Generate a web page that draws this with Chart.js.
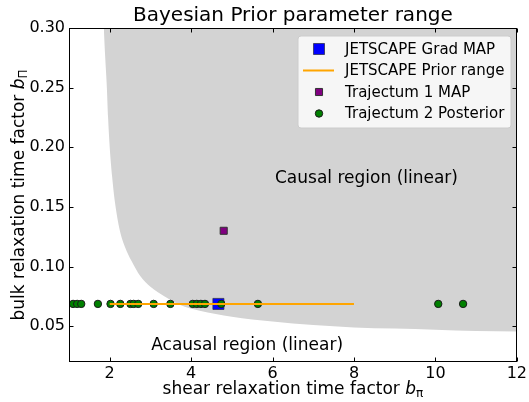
<!DOCTYPE html>
<html>
<head>
<meta charset="utf-8">
<script src="https://cdn.jsdelivr.net/npm/chart.js@4.4.1/dist/chart.umd.min.js"></script>
<style>
html,body{margin:0;padding:0;background:#fff;}
#c{display:block;}
</style>
</head>
<body>
<canvas id="c" width="529" height="402" style="width:529px;height:402px"></canvas>
<script>
// ---- data ----
const titleText = 'Bayesian Prior parameter range';
const xLabelText = 'shear relaxation time factor ';
const yLabelText = 'bulk relaxation time factor ';
const xTicks = [2, 4, 6, 8, 10, 12];
const yTicks = [0.05, 0.10, 0.15, 0.20, 0.25, 0.30];

// causal boundary (lower edge of shaded region)
const causalX = [1.855, 1.89, 1.93, 1.96, 2.0, 2.06, 2.12, 2.25, 2.38, 2.53, 2.75, 3.0, 3.35, 3.72, 4.21, 5.0, 6.0, 7.0, 8.0, 9.0, 10.0, 11.0, 12.0];
const causalY = [0.30, 0.275, 0.25, 0.225, 0.20, 0.175, 0.156, 0.13, 0.116, 0.105, 0.092, 0.083, 0.075, 0.068, 0.063, 0.058, 0.054, 0.051, 0.049, 0.048, 0.047, 0.046, 0.0455];

const jetscapeMapX = [4.67];
const jetscapeMapY = [0.0687];

const priorRangeX = [2.0, 8.0];
const priorRangeY = [0.0687, 0.0687];

const traj1X = [4.80];
const traj1Y = [0.130];

const traj2X = [1.10, 1.20, 1.30, 1.71, 2.02, 2.26, 2.51, 2.59, 2.70, 3.08, 3.49, 4.04, 4.14, 4.24, 4.34, 4.74, 5.64, 10.07, 10.68];
const traj2Y = [0.0687, 0.0687, 0.0687, 0.0687, 0.0687, 0.0687, 0.0687, 0.0687, 0.0687, 0.0687, 0.0687, 0.0687, 0.0687, 0.0687, 0.0687, 0.0687, 0.0687, 0.0687, 0.0687];

const annotations = [
  {text: 'Causal region (linear)', x: 6.06, y: 0.170},
  {text: 'Acausal region (linear)', x: 3.02, y: 0.030}
];

const pts = (xs, ys) => xs.map((x, i) => ({x: x, y: ys[i]}));
const FONT = "'DejaVu Sans', 'Liberation Sans', sans-serif";

const overlay = {
  id: 'overlay',
  afterDraw(chart) {
    const ctx = chart.ctx;
    const a = chart.chartArea;
    const xs = chart.scales.x, ys = chart.scales.y;
    ctx.save();
    // title
    ctx.fillStyle = '#000';
    ctx.font = '20px ' + FONT;
    ctx.textAlign = 'center';
    ctx.textBaseline = 'alphabetic';
    ctx.fillText(titleText, (a.left + a.right) / 2, 21);
    // annotations
    ctx.font = '17px ' + FONT;
    ctx.textAlign = 'left';
    annotations.forEach(t => {
      ctx.fillText(t.text, xs.getPixelForValue(t.x), ys.getPixelForValue(t.y));
    });
    // frame
    ctx.strokeStyle = '#000';
    ctx.lineWidth = 1;
    const L = Math.round(a.left) + 0.5, R = Math.round(a.right) - 0.5;
    const T = Math.round(a.top) + 0.5, B = Math.round(a.bottom) - 0.5;
    ctx.strokeRect(L, T, R - L, B - T);
    // inward ticks
    const tl = 4;
    ctx.beginPath();
    xTicks.forEach(v => {
      const px = Math.round(xs.getPixelForValue(v)) + 0.5;
      ctx.moveTo(px, B); ctx.lineTo(px, B - tl);
      ctx.moveTo(px, T); ctx.lineTo(px, T + tl);
    });
    yTicks.forEach(v => {
      const py = Math.round(ys.getPixelForValue(v)) + 0.5;
      ctx.moveTo(L, py); ctx.lineTo(L + tl, py);
      ctx.moveTo(R, py); ctx.lineTo(R - tl, py);
    });
    ctx.stroke();

    // axis titles with italic b and subscript
    function labelParts(main, sub) {
      return [
        {t: main, f: '17px ' + FONT, dy: 0},
        {t: 'b', f: 'italic 17px ' + FONT, dy: 0},
        {t: sub, f: '12px ' + FONT, dy: 3}
      ];
    }
    function drawLabel(parts, cx, cy, rot) {
      ctx.save();
      ctx.translate(cx, cy);
      ctx.rotate(rot);
      let w = 0;
      parts.forEach(p => { ctx.font = p.f; p.w = ctx.measureText(p.t).width; w += p.w; });
      let x = -w / 2;
      ctx.textAlign = 'left';
      ctx.textBaseline = 'alphabetic';
      ctx.fillStyle = '#000';
      parts.forEach(p => { ctx.font = p.f; ctx.fillText(p.t, x, p.dy); x += p.w; });
      ctx.restore();
    }
    drawLabel(labelParts(xLabelText, 'π'), (a.left + a.right) / 2, 394, 0);
    drawLabel(labelParts(yLabelText, 'Π'), 24, (a.top + a.bottom) / 2, -Math.PI / 2);

    // legend
    const lx = 298, ly = 36, lw = 213, lh = 92;
    ctx.beginPath();
    const r = 3;
    ctx.moveTo(lx + r, ly);
    ctx.arcTo(lx + lw, ly, lx + lw, ly + lh, r);
    ctx.arcTo(lx + lw, ly + lh, lx, ly + lh, r);
    ctx.arcTo(lx, ly + lh, lx, ly, r);
    ctx.arcTo(lx, ly, lx + lw, ly, r);
    ctx.closePath();
    ctx.fillStyle = 'rgba(255,255,255,0.8)';
    ctx.fill();
    ctx.strokeStyle = '#cccccc';
    ctx.lineWidth = 1;
    ctx.stroke();
    const rows = [49, 70.5, 92, 113.5];
    const mx = 319;
    const ds = chart.data.datasets;
    const order = [1, 2, 3, 4];
    ctx.font = '15px ' + FONT;
    ctx.textAlign = 'left';
    ctx.textBaseline = 'middle';
    order.forEach((di, i) => {
      const d = ds[di];
      const y = rows[i];
      if (d.showLine) {
        ctx.strokeStyle = d.borderColor;
        ctx.lineWidth = 2;
        ctx.beginPath();
        ctx.moveTo(303, y); ctx.lineTo(334, y);
        ctx.stroke();
      } else {
        ctx.fillStyle = d.backgroundColor;
        ctx.strokeStyle = d.borderColor;
        ctx.lineWidth = d.borderWidth;
        ctx.beginPath();
        if (d.pointStyle === 'rect') {
          const s = Math.SQRT1_2 * d.pointRadius;
          ctx.rect(mx - s, y - s, 2 * s, 2 * s);
        } else {
          ctx.arc(mx, y, d.pointRadius, 0, Math.PI * 2);
        }
        ctx.fill();
        ctx.stroke();
      }
      ctx.fillStyle = '#000';
      ctx.fillText(d.label, 345, y + 1);
    });
    ctx.restore();
  }
};

new Chart(document.getElementById('c'), {
  type: 'scatter',
  data: {
    datasets: [
      {
        label: 'Causal region (linear)',
        data: pts(causalX, causalY),
        showLine: true,
        fill: 'end',
        backgroundColor: '#d3d3d3',
        borderColor: '#d3d3d3',
        borderWidth: 0,
        pointRadius: 0,
        cubicInterpolationMode: 'monotone',
        order: 10
      },
      {
        label: 'JETSCAPE Grad MAP',
        data: pts(jetscapeMapX, jetscapeMapY),
        pointStyle: 'rect',
        pointRadius: 7.8,
        backgroundColor: '#0000ff',
        borderColor: 'rgba(40,40,60,0.7)',
        borderWidth: 1,
        order: 5
      },
      {
        label: 'JETSCAPE Prior range',
        data: pts(priorRangeX, priorRangeY),
        showLine: true,
        borderColor: '#ffa500',
        backgroundColor: '#ffa500',
        borderWidth: 2,
        pointRadius: 0,
        order: 3
      },
      {
        label: 'Trajectum 1 MAP',
        data: pts(traj1X, traj1Y),
        pointStyle: 'rect',
        pointRadius: 5,
        backgroundColor: '#800080',
        borderColor: '#333333',
        borderWidth: 1,
        order: 2
      },
      {
        label: 'Trajectum 2 Posterior',
        data: pts(traj2X, traj2Y),
        pointStyle: 'circle',
        pointRadius: 3.7,
        backgroundColor: '#008000',
        borderColor: '#1a1a1a',
        borderWidth: 1,
        order: 4
      }
    ]
  },
  options: {
    responsive: false,
    devicePixelRatio: 1,
    animation: false,
    events: [],
    layout: {padding: {top: 28, left: 0, right: 11, bottom: 0}},
    plugins: {
      legend: {display: false},
      tooltip: {enabled: false},
      title: {display: false}
    },
    scales: {
      x: {
        type: 'linear',
        min: 1, max: 12,
        afterBuildTicks: s => { s.ticks = xTicks.map(v => ({value: v})); },
        afterFit: s => { s.height = 40; },
        grid: {display: false, drawTicks: false},
        border: {display: false},
        ticks: {
          color: '#000', padding: 2, maxRotation: 0, autoSkip: false,
          font: {family: FONT, size: 16},
          callback: v => String(v)
        }
      },
      y: {
        type: 'linear',
        min: 0.02, max: 0.30,
        afterBuildTicks: s => { s.ticks = yTicks.map(v => ({value: v})); },
        afterFit: s => { s.width = 69; },
        grid: {display: false, drawTicks: false},
        border: {display: false},
        ticks: {
          color: '#000', padding: 4, autoSkip: false,
          font: {family: FONT, size: 16},
          callback: v => Number(v).toFixed(2)
        }
      }
    }
  },
  plugins: [overlay]
});
</script>
</body>
</html>
